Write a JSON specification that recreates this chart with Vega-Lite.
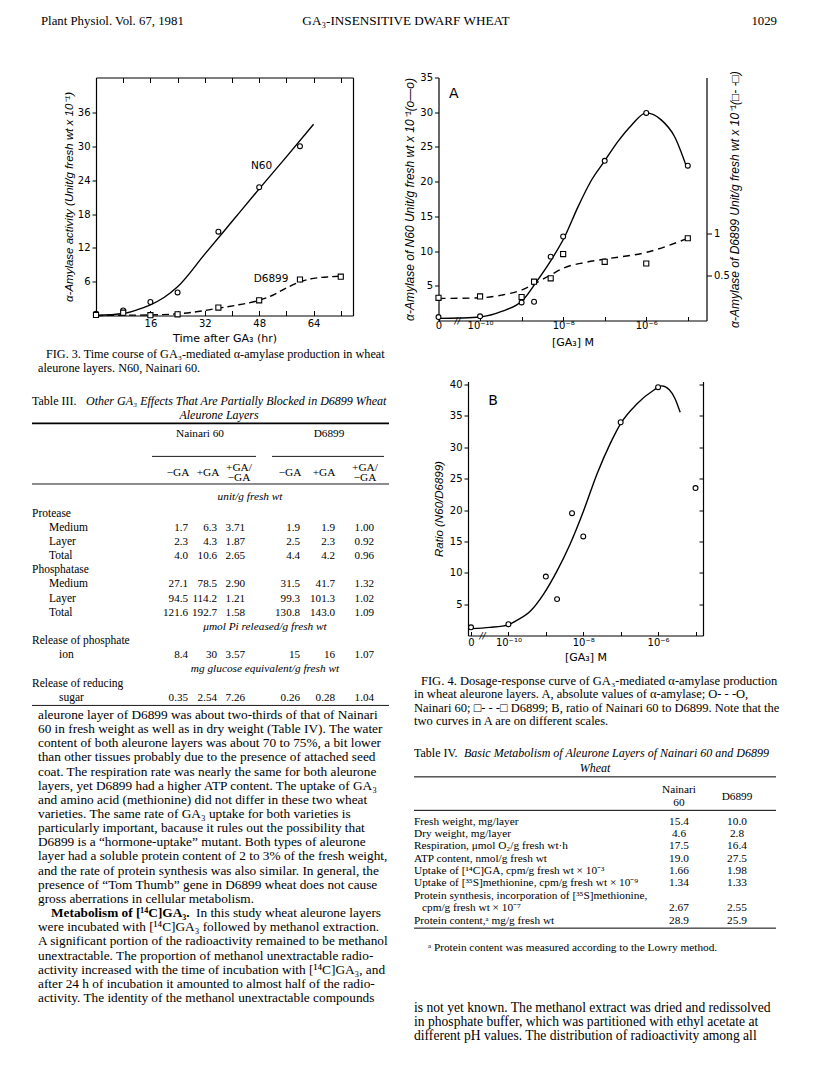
{
"$schema":"https://vega.github.io/schema/vega-lite/v6.json",
"background":"white",
"padding":{"left":31,"top":13.5,"right":0,"bottom":0},
"columns":2,
"align":"none",
"bounds":"flush",
"spacing":{"row":0,"column":25},
"config":{
  "view":{"stroke":null},
  "axis":{"grid":false,"labelFont":"DejaVu Sans","labelFontSize":10,"labelColor":"black","titleColor":"black","domainColor":"black","tickColor":"black","domainWidth":1.2,"tickWidth":1,"titleFontWeight":"normal","labelFlush":false,"labelOverlap":false},
  "text":{"color":"black"}
},
"datasets":{
  "header":[{"line":1,"col":0,"text":"Plant Physiol. Vol. 67, 1981"},{"line":1,"col":1,"text":"GA₃-INSENSITIVE DWARF WHEAT"},{"line":1,"col":2,"text":"1029"}],
  "f3curve":[
    {"s":"N60","t":0,"v":0},{"s":"N60","t":8,"v":0.35},{"s":"N60","t":12,"v":1.0},{"s":"N60","t":16,"v":1.9},{"s":"N60","t":20,"v":3.2},{"s":"N60","t":24,"v":5.1},{"s":"N60","t":32,"v":10.9},{"s":"N60","t":40,"v":16.7},{"s":"N60","t":48,"v":22.5},{"s":"N60","t":56,"v":28.2},{"s":"N60","t":64,"v":34.0},
    {"s":"D6899","t":0,"v":0},{"s":"D6899","t":8,"v":0.05},{"s":"D6899","t":16,"v":0.1},{"s":"D6899","t":24,"v":0.3},{"s":"D6899","t":30,"v":0.7},{"s":"D6899","t":36,"v":1.3},{"s":"D6899","t":42,"v":1.9},{"s":"D6899","t":48,"v":2.7},{"s":"D6899","t":52,"v":3.6},{"s":"D6899","t":56,"v":4.9},{"s":"D6899","t":60,"v":6.0},{"s":"D6899","t":64,"v":6.6},{"s":"D6899","t":68,"v":6.85},{"s":"D6899","t":72,"v":7.0}
  ],
  "f3pts":[
    {"s":"N60","t":0,"v":0.3},{"s":"N60","t":8,"v":0.9},{"s":"N60","t":16,"v":2.4},{"s":"N60","t":24,"v":4.1},{"s":"N60","t":36,"v":14.9},{"s":"N60","t":48,"v":22.8},{"s":"N60","t":60,"v":30.1},
    {"s":"D6899","t":0,"v":0.1},{"s":"D6899","t":8,"v":0.5},{"s":"D6899","t":16,"v":0.05},{"s":"D6899","t":24,"v":0.2},{"s":"D6899","t":36,"v":1.4},{"s":"D6899","t":48,"v":2.7},{"s":"D6899","t":60,"v":6.4},{"s":"D6899","t":72,"v":6.9}
  ],
  "f3lab":[{"t":48.7,"v":26.5,"text":"N60"},{"t":51.5,"v":6.4,"text":"D6899"}],
  "f4acurve":[
    {"s":"N60","lg":-11,"v":0.3},{"s":"N60","lg":-10.5,"v":0.35},{"s":"N60","lg":-10,"v":0.5},{"s":"N60","lg":-9.48,"v":1.3},{"s":"N60","lg":-8.96,"v":3.0},{"s":"N60","lg":-8.64,"v":5.6},{"s":"N60","lg":-8.3,"v":8.6},{"s":"N60","lg":-7.96,"v":12.1},{"s":"N60","lg":-7.64,"v":16.4},{"s":"N60","lg":-7.32,"v":20.2},{"s":"N60","lg":-7.0,"v":23.0},{"s":"N60","lg":-6.68,"v":25.8},{"s":"N60","lg":-6.36,"v":28.1},{"s":"N60","lg":-6.0,"v":29.9},{"s":"N60","lg":-5.64,"v":28.9},{"s":"N60","lg":-5.32,"v":26.5},{"s":"N60","lg":-5.04,"v":22.3},
    {"s":"D6899","lg":-11,"v":0.232},{"s":"D6899","lg":-10,"v":0.24},{"s":"D6899","lg":-9.48,"v":0.272},{"s":"D6899","lg":-8.96,"v":0.34},{"s":"D6899","lg":-8.64,"v":0.42},{"s":"D6899","lg":-8.3,"v":0.512},{"s":"D6899","lg":-7.96,"v":0.6},{"s":"D6899","lg":-7.48,"v":0.66},{"s":"D6899","lg":-7.0,"v":0.7},{"s":"D6899","lg":-6.0,"v":0.78},{"s":"D6899","lg":-5.04,"v":0.94}
  ],
  "f4apts":[
    {"s":"N60","lg":-11,"v":0.5},{"s":"N60","lg":-10,"v":0.6},{"s":"N60","lg":-9,"v":2.6},{"s":"N60","lg":-8.7,"v":2.7},{"s":"N60","lg":-8.3,"v":9.2},{"s":"N60","lg":-8,"v":12.1},{"s":"N60","lg":-7,"v":23.0},{"s":"N60","lg":-6,"v":29.9},{"s":"N60","lg":-5,"v":22.3},
    {"s":"D6899","lg":-11,"v":0.24},{"s":"D6899","lg":-10,"v":0.256},{"s":"D6899","lg":-9,"v":0.248},{"s":"D6899","lg":-8.7,"v":0.432},{"s":"D6899","lg":-8.3,"v":0.472},{"s":"D6899","lg":-8,"v":0.76},{"s":"D6899","lg":-7,"v":0.668},{"s":"D6899","lg":-6,"v":0.648},{"s":"D6899","lg":-5,"v":0.948}
  ],
  "f4alab":[{"lg":-10.63,"v":32.6,"text":"A"}],
  "f4abrk":[{"lg":-10.54,"v":0,"text":"//"}],
  "f4bcurve":[
    {"lg":-11,"v":1.1},{"lg":-10.5,"v":1.3},{"lg":-10,"v":1.7},{"lg":-9.81,"v":2.3},{"lg":-9.41,"v":3.9},{"lg":-9.06,"v":6.6},{"lg":-8.70,"v":10.3},{"lg":-8.35,"v":14.6},{"lg":-7.99,"v":19.9},{"lg":-7.63,"v":25.8},{"lg":-7.28,"v":30.6},{"lg":-7.0,"v":33.8},{"lg":-6.57,"v":36.9},{"lg":-6.12,"v":39.1},{"lg":-5.9,"v":39.8},{"lg":-5.7,"v":39.2},{"lg":-5.55,"v":37.8},{"lg":-5.41,"v":35.6}
  ],
  "f4bpts":[{"lg":-11,"v":1.3},{"lg":-10,"v":1.8},{"lg":-9,"v":9.4},{"lg":-8.7,"v":5.8},{"lg":-8.3,"v":19.5},{"lg":-8,"v":15.8},{"lg":-7,"v":34.0},{"lg":-6,"v":39.6},{"lg":-5,"v":23.5}],
  "f4blab":[{"lg":-10.41,"v":37.4,"text":"B"}],
  "f4bbrk":[{"lg":-10.69,"v":0,"text":"//"}],
  "cap3":[{"line":1,"col":1,"text":"FIG. 3. Time course of GA₃-mediated α-amylase production in wheat"},{"line":2,"col":0,"text":"aleurone layers. N60, Nainari 60."}],
  "t3":[
    {"line":1,"col":0,"role":"tl","text":"Table III."},
    {"line":1,"col":3,"role":"ti","text":"Other GA₃ Effects That Are Partially Blocked in D6899 Wheat"},
    {"line":2,"col":10,"role":"tc","text":"Aleurone Layers"},
    {"line":3.4,"col":7,"role":"h","text":"Nainari 60"},
    {"line":3.4,"col":20,"role":"h","text":"D6899"},
    {"line":6.15,"col":5,"role":"h","text":"−GA"},
    {"line":6.15,"col":8,"role":"h","text":"+GA"},
    {"line":5.8,"col":11,"role":"h","text":"+GA/\n−GA"},
    {"line":6.15,"col":17,"role":"h","text":"−GA"},
    {"line":6.15,"col":19,"role":"h","text":"+GA"},
    {"line":5.8,"col":22,"role":"h","text":"+GA/\n−GA"},
    {"line":7.8,"col":13,"role":"u","text":"unit/g fresh wt"},
    {"line":9,"col":0,"role":"l","text":"Protease"},
    {"line":10,"col":1,"role":"l","text":"Medium"},
    {"line":11,"col":1,"role":"l","text":"Layer"},
    {"line":12,"col":1,"role":"l","text":"Total"},
    {"line":13,"col":0,"role":"l","text":"Phosphatase"},
    {"line":14,"col":1,"role":"l","text":"Medium"},
    {"line":15,"col":1,"role":"l","text":"Layer"},
    {"line":16,"col":1,"role":"l","text":"Total"},
    {"line":17,"col":15,"role":"u","text":"μmol Pi released/g fresh wt"},
    {"line":18,"col":0,"role":"l","text":"Release of phosphate"},
    {"line":19,"col":2,"role":"l","text":"ion"},
    {"line":20,"col":15,"role":"u","text":"mg glucose equivalent/g fresh wt"},
    {"line":21,"col":0,"role":"l","text":"Release of reducing"},
    {"line":22,"col":2,"role":"l","text":"sugar"},
    {"line":10,"col":6,"role":"v","text":"1.7"},{"line":10,"col":9,"role":"v","text":"6.3"},{"line":10,"col":12,"role":"v","text":"3.71"},{"line":10,"col":18,"role":"v","text":"1.9"},{"line":10,"col":21,"role":"v","text":"1.9"},{"line":10,"col":23,"role":"v","text":"1.00"},
    {"line":11,"col":6,"role":"v","text":"2.3"},{"line":11,"col":9,"role":"v","text":"4.3"},{"line":11,"col":12,"role":"v","text":"1.87"},{"line":11,"col":18,"role":"v","text":"2.5"},{"line":11,"col":21,"role":"v","text":"2.3"},{"line":11,"col":23,"role":"v","text":"0.92"},
    {"line":12,"col":6,"role":"v","text":"4.0"},{"line":12,"col":9,"role":"v","text":"10.6"},{"line":12,"col":12,"role":"v","text":"2.65"},{"line":12,"col":18,"role":"v","text":"4.4"},{"line":12,"col":21,"role":"v","text":"4.2"},{"line":12,"col":23,"role":"v","text":"0.96"},
    {"line":14,"col":6,"role":"v","text":"27.1"},{"line":14,"col":9,"role":"v","text":"78.5"},{"line":14,"col":12,"role":"v","text":"2.90"},{"line":14,"col":18,"role":"v","text":"31.5"},{"line":14,"col":21,"role":"v","text":"41.7"},{"line":14,"col":23,"role":"v","text":"1.32"},
    {"line":15,"col":6,"role":"v","text":"94.5"},{"line":15,"col":9,"role":"v","text":"114.2"},{"line":15,"col":12,"role":"v","text":"1.21"},{"line":15,"col":18,"role":"v","text":"99.3"},{"line":15,"col":21,"role":"v","text":"101.3"},{"line":15,"col":23,"role":"v","text":"1.02"},
    {"line":16,"col":6,"role":"v","text":"121.6"},{"line":16,"col":9,"role":"v","text":"192.7"},{"line":16,"col":12,"role":"v","text":"1.58"},{"line":16,"col":18,"role":"v","text":"130.8"},{"line":16,"col":21,"role":"v","text":"143.0"},{"line":16,"col":23,"role":"v","text":"1.09"},
    {"line":19,"col":6,"role":"v","text":"8.4"},{"line":19,"col":9,"role":"v","text":"30"},{"line":19,"col":12,"role":"v","text":"3.57"},{"line":19,"col":18,"role":"v","text":"15"},{"line":19,"col":21,"role":"v","text":"16"},{"line":19,"col":23,"role":"v","text":"1.07"},
    {"line":22,"col":6,"role":"v","text":"0.35"},{"line":22,"col":9,"role":"v","text":"2.54"},{"line":22,"col":12,"role":"v","text":"7.26"},{"line":22,"col":18,"role":"v","text":"0.26"},{"line":22,"col":21,"role":"v","text":"0.28"},{"line":22,"col":23,"role":"v","text":"1.04"},
    {"line":2.62,"col":0,"col2":25,"role":"rt"},
    {"line":4.95,"col":4,"col2":14,"role":"r"},
    {"line":4.95,"col":16,"col2":24,"role":"r"},
    {"line":6.9,"col":0,"col2":25,"role":"r"},
    {"line":22.55,"col":0,"col2":25,"role":"r"}
  ],
  "bodyL":[
    {"line":1,"col":0,"role":"n","text":"aleurone layer of D6899 was about two-thirds of that of Nainari"},
    {"line":2,"col":0,"role":"n","text":"60 in fresh weight as well as in dry weight (Table IV). The water"},
    {"line":3,"col":0,"role":"n","text":"content of both aleurone layers was about 70 to 75%, a bit lower"},
    {"line":4,"col":0,"role":"n","text":"than other tissues probably due to the presence of attached seed"},
    {"line":5,"col":0,"role":"n","text":"coat. The respiration rate was nearly the same for both aleurone"},
    {"line":6,"col":0,"role":"n","text":"layers, yet D6899 had a higher ATP content. The uptake of GA₃"},
    {"line":7,"col":0,"role":"n","text":"and amino acid (methionine) did not differ in these two wheat"},
    {"line":8,"col":0,"role":"n","text":"varieties. The same rate of GA₃ uptake for both varieties is"},
    {"line":9,"col":0,"role":"n","text":"particularly important, bacause it rules out the possibility that"},
    {"line":10,"col":0,"role":"n","text":"D6899 is a “hormone-uptake” mutant. Both types of aleurone"},
    {"line":11,"col":0,"role":"n","text":"layer had a soluble protein content of 2 to 3% of the fresh weight,"},
    {"line":12,"col":0,"role":"n","text":"and the rate of protein synthesis was also similar. In general, the"},
    {"line":13,"col":0,"role":"n","text":"presence of “Tom Thumb” gene in D6899 wheat does not cause"},
    {"line":14,"col":0,"role":"n","text":"gross aberrations in cellular metabolism."},
    {"line":15,"col":1,"role":"b","text":"Metabolism of [¹⁴C]GA₃."},
    {"line":15,"col":2,"role":"n","text":"In this study wheat aleurone layers"},
    {"line":16,"col":0,"role":"n","text":"were incubated with [¹⁴C]GA₃ followed by methanol extraction."},
    {"line":17,"col":0,"role":"n","text":"A significant portion of the radioactivity remained to be methanol"},
    {"line":18,"col":0,"role":"n","text":"unextractable. The proportion of methanol unextractable radio-"},
    {"line":19,"col":0,"role":"n","text":"activity increased with the time of incubation with [¹⁴C]GA₃, and"},
    {"line":20,"col":0,"role":"n","text":"after 24 h of incubation it amounted to almost half of the radio-"},
    {"line":21,"col":0,"role":"n","text":"activity. The identity of the methanol unextractable compounds"}
  ],
  "cap4":[
    {"line":1,"col":1,"text":"FIG. 4. Dosage-response curve of GA₃-mediated α-amylase production"},
    {"line":2,"col":0,"text":"in wheat aleurone layers. A, absolute values of α-amylase; O- - -O,"},
    {"line":3,"col":0,"text":"Nainari 60; □- - -□ D6899; B, ratio of Nainari 60 to D6899. Note that the"},
    {"line":4,"col":0,"text":"two curves in A are on different scales."}
  ],
  "t4":[
    {"line":-4.5,"col":0,"role":"tl","text":"Table IV."},
    {"line":-4.5,"col":3,"role":"ti","text":"Basic Metabolism of Aleurone Layers of Nainari 60 and D6899"},
    {"line":-3.35,"col":4,"role":"tc","text":"Wheat"},
    {"line":-1.55,"col":5,"role":"h","text":"Nainari\n60"},
    {"line":-1,"col":6,"role":"h","text":"D6899"},
    {"line":1,"col":0,"role":"l","text":"Fresh weight, mg/layer"},
    {"line":2,"col":0,"role":"l","text":"Dry weight, mg/layer"},
    {"line":3,"col":0,"role":"l","text":"Respiration, μmol O₂/g fresh wt·h"},
    {"line":4,"col":0,"role":"l","text":"ATP content, nmol/g fresh wt"},
    {"line":5,"col":0,"role":"l","text":"Uptake of [¹⁴C]GA, cpm/g fresh wt × 10⁻³"},
    {"line":6,"col":0,"role":"l","text":"Uptake of [³⁵S]methionine, cpm/g fresh wt × 10⁻⁹"},
    {"line":7,"col":0,"role":"l","text":"Protein synthesis, incorporation of [³⁵S]methionine,"},
    {"line":8,"col":1,"role":"l","text":"cpm/g fresh wt × 10⁻⁷"},
    {"line":9,"col":0,"role":"l","text":"Protein content,ᵃ mg/g fresh wt"},
    {"line":1,"col":5,"role":"h","text":"15.4"},{"line":1,"col":6,"role":"h","text":"10.0"},
    {"line":2,"col":5,"role":"h","text":"4.6"},{"line":2,"col":6,"role":"h","text":"2.8"},
    {"line":3,"col":5,"role":"h","text":"17.5"},{"line":3,"col":6,"role":"h","text":"16.4"},
    {"line":4,"col":5,"role":"h","text":"19.0"},{"line":4,"col":6,"role":"h","text":"27.5"},
    {"line":5,"col":5,"role":"h","text":"1.66"},{"line":5,"col":6,"role":"h","text":"1.98"},
    {"line":6,"col":5,"role":"h","text":"1.34"},{"line":6,"col":6,"role":"h","text":"1.33"},
    {"line":8,"col":5,"role":"h","text":"2.67"},{"line":8,"col":6,"role":"h","text":"2.55"},
    {"line":9,"col":5,"role":"h","text":"28.9"},{"line":9,"col":6,"role":"h","text":"25.9"},
    {"line":11.2,"col":2,"role":"l","text":"ᵃ Protein content was measured according to the Lowry method."},
    {"line":-2.6,"col":0,"col2":7,"role":"r"},
    {"line":0.1,"col":0,"col2":7,"role":"r"},
    {"line":9.6,"col":0,"col2":7,"role":"r"}
  ],
  "bodyR":[
    {"line":1,"col":0,"text":"is not yet known. The methanol extract was dried and redissolved"},
    {"line":2,"col":0,"text":"in phosphate buffer, which was partitioned with ethyl acetate at"},
    {"line":3,"col":0,"text":"different pH values. The distribution of radioactivity among all"}
  ]
},
"concat":[
  {
    "width":357,"height":62,
    "data":{"name":"header"},
    "encoding":{
      "x":{"field":"col","type":"quantitative","scale":{"domain":[0,1,2],"range":[9,374,745],"nice":false,"zero":false},"axis":null},
      "y":{"field":"line","type":"quantitative","scale":{"domain":[0.5,5.667],"reverse":true,"nice":false,"zero":false},"axis":null},
      "text":{"field":"text"}
    },
    "layer":[
      {"transform":[{"filter":"datum.col==0"}],"mark":{"type":"text","align":"left","baseline":"middle","font":"Liberation Serif","fontSize":12.8}},
      {"transform":[{"filter":"datum.col==1"}],"mark":{"type":"text","align":"center","baseline":"middle","font":"Liberation Serif","fontSize":13.2}},
      {"transform":[{"filter":"datum.col==2"}],"mark":{"type":"text","align":"right","baseline":"middle","font":"Liberation Serif","fontSize":12.8}}
    ]
  },
  {"width":0,"height":62,"data":{"values":[{"a":1}]},"mark":"text","encoding":{}},

  {
    "width":321,"height":238,
    "layer":[
      {
        "encoding":{
          "x":{"field":"t","type":"quantitative","scale":{"domain":[0,75.6],"range":[64,321],"nice":false,"zero":false},
               "axis":{"values":[8,16,24,32,40,48,56,64,72],"labelExpr":"datum.value % 16 == 0 ? datum.label : ''","tickSize":-5,"labelPadding":8,"title":"Time after GA₃ (hr)","titleFont":"DejaVu Sans","titleFontSize":11,"titlePadding":4}},
          "y":{"field":"v","type":"quantitative","scale":{"domain":[0,42.3],"nice":false,"zero":false},
               "axis":{"offset":-64,"values":[6,12,18,24,30,36],"tickSize":4,"labelPadding":2,"title":"α-Amylase activity (Unit/g fresh wt x 10⁻¹)","titleFont":"Liberation Sans","titleFontStyle":"italic","titleFontSize":11.5,"titlePadding":3}}
        },
        "layer":[
          {"data":{"name":"f3curve"},"transform":[{"filter":"datum.s=='N60'"}],"mark":{"type":"line","interpolate":"monotone","color":"black","strokeWidth":1.4}},
          {"data":{"name":"f3curve"},"transform":[{"filter":"datum.s=='D6899'"}],"mark":{"type":"line","interpolate":"monotone","color":"black","strokeWidth":1.4,"strokeDash":[7,4]}},
          {"data":{"name":"f3pts"},"transform":[{"filter":"datum.s=='N60'"}],"mark":{"type":"point","shape":"circle","size":24,"filled":true,"fill":"white","stroke":"black","strokeWidth":1.1,"opacity":1}},
          {"data":{"name":"f3pts"},"transform":[{"filter":"datum.s=='D6899'"}],"mark":{"type":"point","shape":"square","size":26,"filled":true,"fill":"white","stroke":"black","strokeWidth":1.1,"opacity":1}},
          {"data":{"name":"f3lab"},"mark":{"type":"text","font":"DejaVu Sans","fontSize":10.5,"align":"center","baseline":"middle"},"encoding":{"text":{"field":"text"}}}
        ]
      },
      {
        "data":{"values":[{"t":0,"v":0}]},
        "mark":{"type":"point","opacity":0},
        "encoding":{
          "x":{"field":"t","type":"quantitative","axis":{"orient":"top","values":[8,16,24,32,40,48,56,64,72],"labels":false,"tickSize":-5,"title":null}},
          "y":{"field":"v","type":"quantitative","axis":{"orient":"right","labels":false,"ticks":false,"title":null}}
        }
      }
    ],
    "resolve":{"axis":{"x":"independent","y":"independent"}}
  },
  {
    "width":292.5,"height":243,
    "layer":[
      {
        "encoding":{
          "x":{"field":"lg","type":"quantitative","scale":{"domain":[-11,-4.55],"range":[24.5,292.5],"nice":false,"zero":false},
               "axis":{"values":[-11,-10,-9,-8,-7,-6,-5],"labelExpr":"datum.value == -11 ? '0' : datum.value == -10 ? '10⁻¹⁰' : datum.value == -8 ? '10⁻⁸' : datum.value == -6 ? '10⁻⁶' : ''","tickSize":-4,"labelPadding":4,"title":"[GA₃]   M","titleFont":"DejaVu Sans","titleFontSize":11,"titlePadding":6}},
          "y":{"field":"v","type":"quantitative","scale":{"domain":[0,35],"nice":false,"zero":false},
               "axis":{"offset":-24.5,"values":[5,10,15,20,25,30,35],"tickSize":4,"labelPadding":2,"title":"α-Amylase of N60 Unit/g fresh wt x 10⁻¹(o—o)","titleFont":"Liberation Sans","titleFontStyle":"italic","titleFontSize":12,"titlePadding":3}}
        },
        "layer":[
          {"data":{"name":"f4acurve"},"transform":[{"filter":"datum.s=='N60'"}],"mark":{"type":"line","interpolate":"monotone","color":"black","strokeWidth":1.4}},
          {"data":{"name":"f4apts"},"transform":[{"filter":"datum.s=='N60'"}],"mark":{"type":"point","shape":"circle","size":24,"filled":true,"fill":"white","stroke":"black","strokeWidth":1.1,"opacity":1}},
          {"data":{"name":"f4alab"},"mark":{"type":"text","font":"DejaVu Sans","fontSize":14,"align":"center","baseline":"middle"},"encoding":{"text":{"field":"text"}}},
          {"data":{"name":"f4abrk"},"mark":{"type":"text","font":"DejaVu Sans","fontSize":9,"fontStyle":"italic","align":"center","baseline":"middle"},"encoding":{"text":{"field":"text"}}}
        ]
      },
      {
        "encoding":{
          "x":{"field":"lg","type":"quantitative"},
          "y":{"field":"v","type":"quantitative","scale":{"domain":[-0.03,2.86],"nice":false,"zero":false},
               "axis":{"orient":"right","values":[0.5,1],"format":"~g","tickSize":5,"labelPadding":2,"title":"α-Amylase of D6899 Unit/g fresh wt x 10⁻¹(□- -□)","titleAngle":270,"titleFont":"Liberation Sans","titleFontStyle":"italic","titleFontSize":12,"titlePadding":12}}
        },
        "layer":[
          {"data":{"name":"f4acurve"},"transform":[{"filter":"datum.s=='D6899'"}],"mark":{"type":"line","interpolate":"monotone","color":"black","strokeWidth":1.4,"strokeDash":[7,5]}},
          {"data":{"name":"f4apts"},"transform":[{"filter":"datum.s=='D6899'"}],"mark":{"type":"point","shape":"square","size":26,"filled":true,"fill":"white","stroke":"black","strokeWidth":1.1,"opacity":1}}
        ]
      }
    ],
    "resolve":{"scale":{"y":"independent"}}
  },

  {
    "width":357,"height":60.5,
    "data":{"name":"cap3"},
    "encoding":{
      "x":{"field":"col","type":"quantitative","scale":{"domain":[0,1],"range":[6,14],"nice":false,"zero":false},"axis":null},
      "y":{"field":"line","type":"quantitative","scale":{"domain":[-1.321,2.9],"reverse":true,"nice":false,"zero":false},"axis":null},
      "text":{"field":"text"}
    },
    "mark":{"type":"text","align":"left","baseline":"middle","font":"Liberation Serif","fontSize":12.2}
  },
  {"width":0,"height":60.5,"data":{"values":[{"a":1}]},"mark":"text","encoding":{}},

  {
    "width":357,"height":254,
    "data":{"name":"t3"},
    "transform":[{"filter":"datum.line < 17.6"}],
    "encoding":{
      "x":{"field":"col","type":"quantitative","scale":{"domain":[0,1,2,3,4,5,6,7,8,9,10,11,12,13,14,15,16,17,18,19,20,21,22,23,24,25],"range":[0,17,27,54,120,146,156,168,176,185,187,207,213,218,224,233,240,258,268,292,297,303,333,342,352,357],"nice":false,"zero":false},"axis":null},
      "y":{"field":"line","type":"quantitative","scale":{"domain":[-0.343,17.608],"reverse":true,"nice":false,"zero":false},"axis":null}
    },
    "layer":[
      {"transform":[{"filter":"datum.role=='tl'"}],"mark":{"type":"text","align":"left","baseline":"middle","font":"Liberation Serif","fontSize":12},"encoding":{"text":{"field":"text"}}},
      {"transform":[{"filter":"datum.role=='ti'"}],"mark":{"type":"text","align":"left","baseline":"middle","font":"Liberation Serif","fontSize":12,"fontStyle":"italic"},"encoding":{"text":{"field":"text"}}},
      {"transform":[{"filter":"datum.role=='tc'"}],"mark":{"type":"text","align":"center","baseline":"middle","font":"Liberation Serif","fontSize":12,"fontStyle":"italic"},"encoding":{"text":{"field":"text"}}},
      {"transform":[{"filter":"datum.role=='u'"}],"mark":{"type":"text","align":"center","baseline":"middle","font":"Liberation Serif","fontSize":11.3,"fontStyle":"italic"},"encoding":{"text":{"field":"text"}}},
      {"transform":[{"filter":"datum.role=='h'"}],"mark":{"type":"text","align":"center","baseline":"middle","font":"Liberation Serif","fontSize":11.3,"lineBreak":"\n","lineHeight":10},"encoding":{"text":{"field":"text"}}},
      {"transform":[{"filter":"datum.role=='l'"}],"mark":{"type":"text","align":"left","baseline":"middle","font":"Liberation Serif","fontSize":11.5},"encoding":{"text":{"field":"text"}}},
      {"transform":[{"filter":"datum.role=='v'"}],"mark":{"type":"text","align":"right","baseline":"middle","font":"Liberation Serif","fontSize":11.1},"encoding":{"text":{"field":"text"}}},
      {"transform":[{"filter":"datum.role=='rt'"}],"mark":{"type":"rule","color":"black","strokeWidth":1.8},"encoding":{"x2":{"field":"col2"}}},
      {"transform":[{"filter":"datum.role=='r'"}],"mark":{"type":"rule","color":"black","strokeWidth":0.9},"encoding":{"x2":{"field":"col2"}}}
    ]
  },
  {
    "width":289,"height":254,
    "layer":[
      {
        "encoding":{
          "x":{"field":"lg","type":"quantitative","scale":{"domain":[-11.08,-4.8],"range":[54,289],"nice":false,"zero":false},
               "axis":{"values":[-11,-10,-9,-8,-7,-6,-5],"labelExpr":"datum.value == -11 ? '0' : datum.value == -10 ? '10⁻¹⁰' : datum.value == -8 ? '10⁻⁸' : datum.value == -6 ? '10⁻⁶' : ''","tickSize":-4,"labelPadding":6,"title":"[GA₃]   M","titleFont":"DejaVu Sans","titleFontSize":11,"titlePadding":4}},
          "y":{"field":"v","type":"quantitative","scale":{"domain":[0,40.5],"nice":false,"zero":false},
               "axis":{"offset":-54,"values":[5,10,15,20,25,30,35,40],"tickSize":4,"labelPadding":2,"title":"Ratio (N60/D6899)","titleFont":"Liberation Sans","titleFontStyle":"italic","titleFontSize":11.5,"titlePadding":5}}
        },
        "layer":[
          {"data":{"name":"f4bcurve"},"mark":{"type":"line","interpolate":"monotone","color":"black","strokeWidth":1.4}},
          {"data":{"name":"f4bpts"},"mark":{"type":"point","shape":"circle","size":24,"filled":true,"fill":"white","stroke":"black","strokeWidth":1.1,"opacity":1}},
          {"data":{"name":"f4blab"},"mark":{"type":"text","font":"DejaVu Sans","fontSize":14,"align":"center","baseline":"middle"},"encoding":{"text":{"field":"text"}}},
          {"data":{"name":"f4bbrk"},"mark":{"type":"text","font":"DejaVu Sans","fontSize":9,"fontStyle":"italic","align":"center","baseline":"middle"},"encoding":{"text":{"field":"text"}}}
        ]
      },
      {
        "data":{"values":[{"v":0}]},
        "mark":{"type":"point","opacity":0},
        "encoding":{
          "y":{"field":"v","type":"quantitative","axis":{"orient":"right","values":[5,10,15,20,25,30,35,40],"labels":false,"tickSize":-4,"title":null}}
        }
      }
    ],
    "resolve":{"axis":{"y":"independent"}}
  },

  {
    "width":357,"height":72,
    "data":{"name":"t3"},
    "transform":[{"filter":"datum.line >= 17.6"}],
    "encoding":{
      "x":{"field":"col","type":"quantitative","scale":{"domain":[0,1,2,3,4,5,6,7,8,9,10,11,12,13,14,15,16,17,18,19,20,21,22,23,24,25],"range":[0,17,27,54,120,146,156,168,176,185,187,207,213,218,224,233,240,258,268,292,297,303,333,342,352,357],"nice":false,"zero":false},"axis":null},
      "y":{"field":"line","type":"quantitative","scale":{"domain":[17.608,22.696],"reverse":true,"nice":false,"zero":false},"axis":null}
    },
    "layer":[
      {"transform":[{"filter":"datum.role=='u'"}],"mark":{"type":"text","align":"center","baseline":"middle","font":"Liberation Serif","fontSize":11.3,"fontStyle":"italic"},"encoding":{"text":{"field":"text"}}},
      {"transform":[{"filter":"datum.role=='l'"}],"mark":{"type":"text","align":"left","baseline":"middle","font":"Liberation Serif","fontSize":11.5},"encoding":{"text":{"field":"text"}}},
      {"transform":[{"filter":"datum.role=='v'"}],"mark":{"type":"text","align":"right","baseline":"middle","font":"Liberation Serif","fontSize":11.1},"encoding":{"text":{"field":"text"}}},
      {"transform":[{"filter":"datum.role=='r'"}],"mark":{"type":"rule","color":"black","strokeWidth":0.9},"encoding":{"x2":{"field":"col2"}}}
    ]
  },
  {
    "width":362,"height":72,
    "data":{"name":"cap4"},
    "encoding":{
      "x":{"field":"col","type":"quantitative","scale":{"domain":[0,1],"range":[0,7],"nice":false,"zero":false},"axis":null},
      "y":{"field":"line","type":"quantitative","scale":{"domain":[-2.538,3.0],"reverse":true,"nice":false,"zero":false},"axis":null},
      "text":{"field":"text"}
    },
    "mark":{"type":"text","align":"left","baseline":"middle","font":"Liberation Serif","fontSize":12.5}
  },

  {
    "width":357,"height":253,
    "data":{"name":"bodyL"},
    "transform":[{"filter":"datum.line <= 18"}],
    "encoding":{
      "x":{"field":"col","type":"quantitative","scale":{"domain":[0,1,2],"range":[6,19,164],"nice":false,"zero":false},"axis":null},
      "y":{"field":"line","type":"quantitative","scale":{"domain":[0.47,18.35],"reverse":true,"nice":false,"zero":false},"axis":null},
      "text":{"field":"text"}
    },
    "layer":[
      {"transform":[{"filter":"datum.role=='n'"}],"mark":{"type":"text","align":"left","baseline":"middle","font":"Liberation Serif","fontSize":13.3}},
      {"transform":[{"filter":"datum.role=='b'"}],"mark":{"type":"text","align":"left","baseline":"middle","font":"Liberation Serif","fontSize":13.3,"fontWeight":"bold"}}
    ]
  },
  {
    "width":362,"height":253,
    "data":{"name":"t4"},
    "encoding":{
      "x":{"field":"col","type":"quantitative","scale":{"domain":[0,1,2,3,4,5,6,7],"range":[0,8,14,50,181,265,323,362],"nice":false,"zero":false},"axis":null},
      "y":{"field":"line","type":"quantitative","scale":{"domain":[-8.194,12.21],"reverse":true,"nice":false,"zero":false},"axis":null}
    },
    "layer":[
      {"transform":[{"filter":"datum.role=='tl'"}],"mark":{"type":"text","align":"left","baseline":"middle","font":"Liberation Serif","fontSize":12},"encoding":{"text":{"field":"text"}}},
      {"transform":[{"filter":"datum.role=='ti'"}],"mark":{"type":"text","align":"left","baseline":"middle","font":"Liberation Serif","fontSize":12,"fontStyle":"italic"},"encoding":{"text":{"field":"text"}}},
      {"transform":[{"filter":"datum.role=='tc'"}],"mark":{"type":"text","align":"center","baseline":"middle","font":"Liberation Serif","fontSize":12,"fontStyle":"italic"},"encoding":{"text":{"field":"text"}}},
      {"transform":[{"filter":"datum.role=='h'"}],"mark":{"type":"text","align":"center","baseline":"middle","font":"Liberation Serif","fontSize":11.3,"lineBreak":"\n","lineHeight":13},"encoding":{"text":{"field":"text"}}},
      {"transform":[{"filter":"datum.role=='l'"}],"mark":{"type":"text","align":"left","baseline":"middle","font":"Liberation Serif","fontSize":11.3},"encoding":{"text":{"field":"text"}}},
      {"transform":[{"filter":"datum.role=='r'"}],"mark":{"type":"rule","color":"black","strokeWidth":1},"encoding":{"x2":{"field":"col2"}}}
    ]
  },

  {
    "width":357,"height":113,
    "data":{"name":"bodyL"},
    "transform":[{"filter":"datum.line >= 19"}],
    "encoding":{
      "x":{"field":"col","type":"quantitative","scale":{"domain":[0,1,2],"range":[6,19,164],"nice":false,"zero":false},"axis":null},
      "y":{"field":"line","type":"quantitative","scale":{"domain":[18.35,26.34],"reverse":true,"nice":false,"zero":false},"axis":null},
      "text":{"field":"text"}
    },
    "mark":{"type":"text","align":"left","baseline":"middle","font":"Liberation Serif","fontSize":13.3}
  },
  {
    "width":362,"height":113,
    "data":{"name":"bodyR"},
    "encoding":{
      "x":{"field":"col","type":"quantitative","scale":{"domain":[0,1],"range":[0,1],"nice":false,"zero":false},"axis":null},
      "y":{"field":"line","type":"quantitative","scale":{"domain":[-2.357,5.714],"reverse":true,"nice":false,"zero":false},"axis":null},
      "text":{"field":"text"}
    },
    "mark":{"type":"text","align":"left","baseline":"middle","font":"Liberation Serif","fontSize":13.6}
  }
]
}
